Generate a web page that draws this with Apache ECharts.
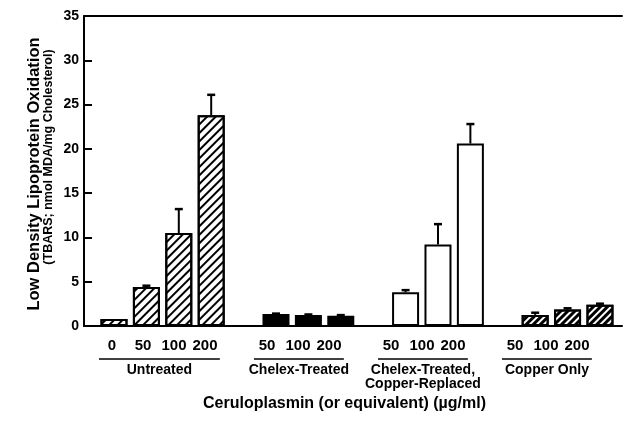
<!DOCTYPE html>
<html><head><meta charset="utf-8">
<script src="https://cdn.jsdelivr.net/npm/echarts@6/dist/echarts.min.js"></script>
<style>html,body{margin:0;padding:0;background:#fff}#c{width:626px;height:435px}</style>
</head><body><div id="c"></div>
<script>
// ---- data ----
const groupNames = ['Untreated', 'Chelex-Treated', 'Chelex-Treated,\nCopper-Replaced', 'Copper Only'];
const untreatedDoses = ['0', '50', '100', '200'];
const chelexDoses = ['50', '100', '200'];
const replacedDoses = ['50', '100', '200'];
const copperDoses = ['50', '100', '200'];
const untreatedMean = [0.8, 4.4, 10.5, 23.8];
const untreatedErr = [0, 0.15, 2.7, 2.3];
const chelexMean = [1.35, 1.25, 1.15];
const chelexErr = [0.05, 0.05, 0.08];
const replacedMean = [3.8, 9.2, 20.6];
const replacedErr = [0.25, 2.3, 2.2];
const copperMean = [1.25, 1.85, 2.4];
const copperErr = [0.25, 0.15, 0.12];
const yMin = 0, yMax = 35, yStep = 5;
const xTitle = 'Ceruloplasmin (or equivalent) (\u00b5g/ml)';
const yTitle1 = 'Low Density Lipoprotein Oxidation';
const yTitle2 = '(TBARS; nmol MDA/mg Cholesterol)';

// ---- build slots (one empty slot between groups) ----
const groupDoses = [untreatedDoses, chelexDoses, replacedDoses, copperDoses];
const groupMeans = [untreatedMean, chelexMean, replacedMean, copperMean];
const groupErrs = [untreatedErr, chelexErr, replacedErr, copperErr];
const slotLabels = [];
const groupSlots = [];
groupDoses.forEach((d, gi) => {
  if (gi > 0) slotLabels.push('');
  const start = slotLabels.length;
  d.forEach(v => slotLabels.push(v));
  groupSlots.push([start, slotLabels.length - 1, gi]);
});

const FONT = '"Liberation Sans", Arial, sans-serif';
const hatch = (thick, gap) => ({symbol: 'rect', symbolSize: 1, dashArrayX: [1, 0], dashArrayY: [thick, gap], rotation: -Math.PI / 4, color: '#000'});
const styles = [
  {color: '#fff', borderColor: '#000', borderWidth: 2, decal: hatch(1.6, 3.4)},
  {color: '#000', borderColor: '#000', borderWidth: 2},
  {color: '#fff', borderColor: '#000', borderWidth: 2},
  {color: '#fff', borderColor: '#000', borderWidth: 2, decal: hatch(3, 2)}
];

const barSeries = groupSlots.map(([s, e, gi]) => ({
  type: 'bar', xAxisIndex: 0, yAxisIndex: 0, barWidth: 27, barGap: '-100%',
  itemStyle: styles[gi],
  data: groupMeans[gi].map((m, k) => [s + k, m]),
  z: 2
}));
const errData = [];
groupSlots.forEach(([s, e, gi]) => groupMeans[gi].forEach((m, k) => errData.push([s + k, m, groupErrs[gi][k]])));

const chart = echarts.init(document.getElementById('c'), null, {renderer: 'canvas'});
chart.setOption({
  animation: false,
  backgroundColor: '#fff',
  grid: [
    {left: 84, right: 4, top: 16, bottom: 109},
    {left: 96.5, right: 33.5, top: 300, height: 30}
  ],
  xAxis: [
    {type: 'value', gridIndex: 0, min: -0.926, max: 15.68, position: 'bottom',
     axisLine: {show: true, onZero: false, lineStyle: {color: '#000', width: 2}}, axisTick: {show: false}, axisLabel: {show: false}, splitLine: {show: false}},
    {type: 'value', gridIndex: 0, min: -0.926, max: 15.68, position: 'top',
     axisLine: {show: true, onZero: false, lineStyle: {color: '#000', width: 2}}, axisTick: {show: false}, axisLabel: {show: false}, splitLine: {show: false}},
    {type: 'category', gridIndex: 1, data: slotLabels, position: 'bottom',
     axisLine: {show: false}, axisTick: {show: false}, splitLine: {show: false},
     axisLabel: {interval: 0, margin: 8, color: '#000', fontFamily: FONT, fontWeight: 'bold', fontSize: 15},
     name: xTitle, nameLocation: 'middle', nameGap: 66,
     nameTextStyle: {color: '#000', fontFamily: FONT, fontWeight: 'bold', fontSize: 16}}
  ],
  yAxis: [
    {type: 'value', gridIndex: 0, min: yMin, max: yMax, interval: yStep,
     axisLine: {show: true, onZero: false, lineStyle: {color: '#000', width: 2}},
     axisTick: {show: true, inside: true, length: 8, lineStyle: {color: '#000', width: 2}},
     axisLabel: {color: '#000', fontFamily: FONT, fontWeight: 'bold', fontSize: 14, margin: 5, padding: [4, 0, 0, 0]},
     splitLine: {show: false}},
    {type: 'value', gridIndex: 1, min: 0, max: 1, show: false}
  ],
  series: [
    ...barSeries,
    {type: 'custom', xAxisIndex: 0, yAxisIndex: 0, data: errData, z: 3,
     renderItem: (params, api) => {
       const x = api.value(0), m = api.value(1), e = api.value(2);
       if (!e) return null;
       const p0 = api.coord([x, m]), p1 = api.coord([x, m + e]);
       return {type: 'group', children: [
         {type: 'line', shape: {x1: p0[0], y1: p0[1], x2: p1[0], y2: p1[1]}, style: {stroke: '#000', lineWidth: 2}},
         {type: 'line', shape: {x1: p1[0] - 4, y1: p1[1], x2: p1[0] + 4, y2: p1[1]}, style: {stroke: '#000', lineWidth: 2.5}}
       ]};
     }},
    {type: 'custom', xAxisIndex: 2, yAxisIndex: 1, data: groupSlots, z: 3,
     renderItem: (params, api) => {
       const s = api.value(0), e = api.value(1), gi = api.value(2);
       const band = api.size([1, 0])[0];
       const a = api.coord([s, 0]), b = api.coord([e, 0]);
       const x1 = a[0] - 0.42 * band, x2 = b[0] + 0.48 * band;
       const y = a[1] + 29;
       return {type: 'group', children: [
         {type: 'line', shape: {x1: x1, y1: y, x2: x2, y2: y}, style: {stroke: '#000', lineWidth: 1.5}},
         {type: 'text', x: (x1 + x2) / 2, y: y + 4,
          style: {text: groupNames[gi], fill: '#000', font: 'bold 14px ' + FONT, align: 'center', verticalAlign: 'top', lineHeight: 14}}
       ]};
     }}
  ],
  graphic: [
    {type: 'text', x: 34, y: 174, rotation: Math.PI / 2,
     style: {text: yTitle1, fill: '#000', font: 'bold 16.5px ' + FONT, align: 'center', verticalAlign: 'middle'}},
    {type: 'text', x: 49, y: 157, rotation: Math.PI / 2,
     style: {text: yTitle2, fill: '#000', font: 'bold 12.5px ' + FONT, align: 'center', verticalAlign: 'middle'}}
  ]
});
</script></body></html>
